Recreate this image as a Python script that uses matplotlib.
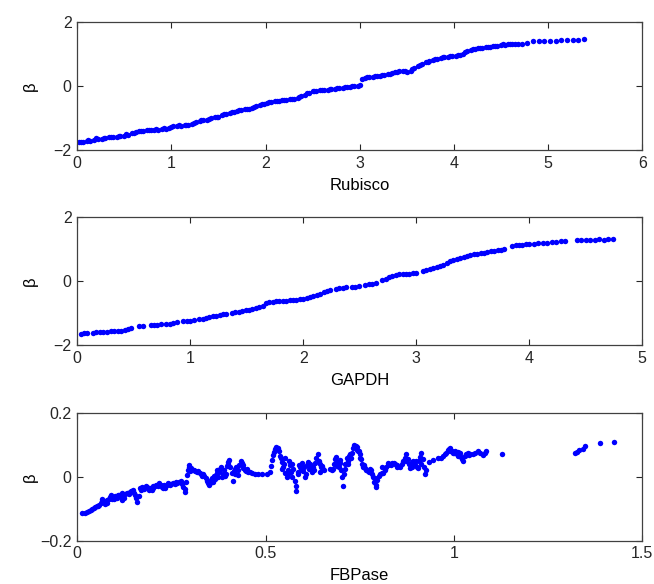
import matplotlib
matplotlib.use('Agg')
import matplotlib.pyplot as plt

# Rubisco panel
rub_x = [0.02, 0.06, 0.10, 0.14, 0.18, 0.22, 0.26, 0.30, 0.34, 0.38, 0.42, 0.46, 0.50, 0.54, 0.58,
         0.62, 0.66, 0.70, 0.74, 0.78, 0.82, 0.86, 0.90, 0.94, 0.98, 1.02, 1.06, 1.10, 1.14, 1.18,
         1.22, 1.26, 1.30, 1.34, 1.38, 1.42, 1.46, 1.50, 1.54, 1.58, 1.62, 1.66, 1.70, 1.74, 1.78,
         1.82, 1.86, 1.90, 1.94, 1.98, 2.02, 2.06, 2.10, 2.14, 2.18, 2.22, 2.26, 2.30, 2.34, 2.38,
         2.42, 2.46, 2.50, 2.54, 2.58, 2.62, 2.66, 2.70, 2.74, 2.78, 2.82, 2.86, 2.90, 2.94, 2.98,
         3.02, 3.06, 3.10, 3.14, 3.18, 3.22, 3.26, 3.30, 3.34, 3.38, 3.42, 3.46, 3.50, 3.54, 3.58,
         3.62, 3.66, 3.70, 3.74, 3.78, 3.82, 3.86, 3.90, 3.94, 3.98, 4.02, 4.06, 4.10, 4.14, 4.18,
         4.22, 4.26, 4.30, 4.34, 4.38, 4.42, 4.46, 4.50, 4.54, 4.58, 4.62, 4.68, 4.72, 4.78, 4.84,
         4.90, 4.96, 5.02, 5.08, 5.14, 5.20, 5.26, 5.32, 5.38,
         0.04, 0.12, 0.20, 0.28, 0.36, 0.44, 0.52, 0.60, 0.68, 0.76, 0.84, 0.92, 1.00, 1.08, 1.16,
         1.24, 1.32, 1.40, 1.48, 1.56, 1.64, 1.72, 1.80, 1.88, 1.96, 2.04, 2.12, 2.20, 2.28, 2.36,
         2.44, 2.52, 2.60, 2.68, 2.76, 2.84, 2.92, 3.00, 3.08, 3.16, 3.24, 3.32, 3.40, 3.48, 3.56,
         3.64, 3.72, 3.80, 3.88, 3.96, 4.04, 4.12, 4.20, 4.28, 4.36, 4.44, 4.52, 4.60, 4.65]
rub_y = [-1.76, -1.75, -1.73, -1.71, -1.67, -1.64, -1.64, -1.62, -1.60, -1.59, -1.58, -1.57, -1.56, -1.53, -1.46,
         -1.43, -1.41, -1.40, -1.38, -1.38, -1.37, -1.36, -1.35, -1.33, -1.31, -1.26, -1.25, -1.24, -1.23, -1.21,
         -1.17, -1.13, -1.10, -1.07, -1.05, -1.01, -0.98, -0.95, -0.91, -0.87, -0.84, -0.82, -0.79, -0.76, -0.73,
         -0.70, -0.67, -0.63, -0.59, -0.56, -0.54, -0.51, -0.48, -0.46, -0.44, -0.43, -0.41, -0.40, -0.37, -0.31,
         -0.27, -0.22, -0.16, -0.14, -0.13, -0.12, -0.11, -0.10, -0.08, -0.07, -0.06, -0.04, -0.03, -0.01, 0.01,
         0.21, 0.25, 0.28, 0.29, 0.31, 0.33, 0.35, 0.38, 0.40, 0.44, 0.47, 0.46, 0.45, 0.48, 0.56,
         0.63, 0.69, 0.74, 0.78, 0.82, 0.85, 0.89, 0.91, 0.92, 0.94, 0.95, 0.97, 1.02, 1.09, 1.14,
         1.16, 1.18, 1.19, 1.21, 1.22, 1.24, 1.26, 1.28, 1.30, 1.31, 1.32, 1.31, 1.33, 1.36, 1.40,
         1.40, 1.41, 1.42, 1.42, 1.43, 1.44, 1.44, 1.45, 1.47,
         -1.74, -1.70, -1.62, -1.61, -1.58, -1.56, -1.51, -1.45, -1.39, -1.37, -1.35, -1.32, -1.28, -1.22, -1.20,
         -1.14, -1.07, -1.02, -0.95, -0.88, -0.81, -0.76, -0.70, -0.64, -0.56, -0.51, -0.46, -0.42, -0.39, -0.33,
         -0.23, -0.14, -0.11, -0.09, -0.06, -0.03, 0.00, 0.04, 0.28, 0.31, 0.35, 0.38, 0.45, 0.47, 0.53,
         0.66, 0.77, 0.85, 0.92, 0.95, 0.98, 1.07, 1.17, 1.20, 1.23, 1.27, 1.31, 1.33, 1.32]

# GAPDH panel
gap_x = [0.03, 0.06, 0.09, 0.14, 0.17, 0.20, 0.23, 0.26, 0.30, 0.33, 0.36, 0.39, 0.42, 0.45, 0.48,
         0.55, 0.58, 0.65, 0.68, 0.71, 0.74, 0.79, 0.82, 0.85, 0.88, 0.94, 0.97, 1.00, 1.03, 1.08,
         1.11, 1.14, 1.17, 1.20, 1.23, 1.26, 1.29, 1.32, 1.37, 1.40, 1.43, 1.46, 1.49, 1.52, 1.55,
         1.58, 1.61, 1.64, 1.67, 1.70, 1.73, 1.76, 1.79, 1.82, 1.85, 1.88, 1.91, 1.94, 1.97, 2.00,
         2.03, 2.06, 2.09, 2.12, 2.15, 2.18, 2.21, 2.24, 2.29, 2.32, 2.35, 2.38, 2.43, 2.46, 2.49,
         2.55, 2.58, 2.61, 2.64, 2.70, 2.73, 2.76, 2.79, 2.82, 2.85, 2.88, 2.91, 2.94, 2.97, 3.00,
         3.06, 3.09, 3.12, 3.15, 3.18, 3.21, 3.24, 3.27, 3.30, 3.33, 3.36, 3.39, 3.42, 3.45, 3.48,
         3.51, 3.54, 3.57, 3.60, 3.63, 3.66, 3.69, 3.72, 3.75, 3.78, 3.85, 3.88, 3.91, 3.94, 3.97,
         4.00, 4.04, 4.08, 4.12, 4.16, 4.20, 4.24, 4.28, 4.32, 4.42, 4.46, 4.50, 4.54, 4.58, 4.62,
         4.66, 4.70, 4.74]
gap_y = [-1.64, -1.63, -1.63, -1.61, -1.60, -1.59, -1.59, -1.58, -1.57, -1.56, -1.56, -1.55, -1.53, -1.51, -1.47,
         -1.41, -1.40, -1.37, -1.36, -1.36, -1.35, -1.34, -1.33, -1.31, -1.29, -1.26, -1.24, -1.23, -1.22, -1.19,
         -1.17, -1.15, -1.13, -1.10, -1.08, -1.06, -1.04, -1.02, -0.99, -0.97, -0.95, -0.93, -0.91, -0.89, -0.87,
         -0.84, -0.82, -0.77, -0.69, -0.65, -0.64, -0.63, -0.63, -0.62, -0.61, -0.60, -0.59, -0.58, -0.57, -0.56,
         -0.53, -0.50, -0.47, -0.43, -0.39, -0.34, -0.30, -0.27, -0.23, -0.21, -0.20, -0.19, -0.18, -0.17, -0.15,
         -0.12, -0.10, -0.09, -0.07, 0.03, 0.08, 0.12, 0.16, 0.20, 0.21, 0.22, 0.23, 0.24, 0.25, 0.26,
         0.31, 0.35, 0.38, 0.41, 0.45, 0.48, 0.51, 0.58, 0.64, 0.67, 0.70, 0.74, 0.77, 0.79, 0.81,
         0.84, 0.86, 0.87, 0.89, 0.91, 0.93, 0.95, 0.97, 0.99, 1.02, 1.10, 1.13, 1.14, 1.14, 1.15,
         1.15, 1.17, 1.18, 1.20, 1.21, 1.22, 1.23, 1.25, 1.25, 1.28, 1.29, 1.29, 1.30, 1.30, 1.31,
         1.30, 1.31, 1.31]

# FBPase panel
fb_x = [0.014, 0.020, 0.026, 0.032, 0.036, 0.040, 0.044, 0.048, 0.052, 0.056, 0.059, 0.062, 0.065, 0.067, 0.070,
        0.073, 0.076, 0.080, 0.084, 0.088, 0.090, 0.093, 0.097, 0.101, 0.105, 0.109, 0.112, 0.116, 0.120, 0.124,
        0.128, 0.132, 0.136, 0.140, 0.144, 0.147, 0.150, 0.154, 0.157, 0.160, 0.163, 0.166, 0.170, 0.174, 0.178,
        0.182, 0.186, 0.190, 0.194, 0.198, 0.202, 0.206, 0.210, 0.214, 0.218, 0.222, 0.226, 0.230, 0.234, 0.238,
        0.242, 0.246, 0.250, 0.255, 0.260, 0.265, 0.270, 0.275, 0.279, 0.282, 0.285, 0.287, 0.289, 0.291, 0.293,
        0.296, 0.298, 0.302, 0.306, 0.310, 0.314, 0.318, 0.322, 0.326, 0.330, 0.334, 0.338, 0.341, 0.344, 0.347,
        0.350, 0.353, 0.356, 0.359, 0.362, 0.365, 0.368, 0.371, 0.374, 0.377, 0.380, 0.383, 0.386, 0.389, 0.392,
        0.395, 0.398, 0.401, 0.404, 0.407, 0.410, 0.413, 0.416, 0.419, 0.422, 0.426, 0.430, 0.434, 0.437, 0.441,
        0.445, 0.449, 0.454, 0.459, 0.465, 0.472, 0.480, 0.490, 0.505, 0.511, 0.514, 0.517, 0.520, 0.523, 0.526,
        0.529, 0.532, 0.535, 0.538, 0.541, 0.544, 0.547, 0.550, 0.553, 0.556, 0.559, 0.562, 0.565, 0.568, 0.571,
        0.574, 0.577, 0.580, 0.582, 0.585, 0.588, 0.591, 0.594, 0.597, 0.600, 0.603, 0.607, 0.610, 0.613, 0.616,
        0.620, 0.624, 0.627, 0.631, 0.635, 0.639, 0.642, 0.645, 0.648, 0.652, 0.656, 0.672, 0.676, 0.679, 0.682,
        0.685, 0.688, 0.691, 0.694, 0.697, 0.700, 0.703, 0.706, 0.709, 0.712, 0.715, 0.718, 0.721, 0.724, 0.727,
        0.730, 0.733, 0.736, 0.739, 0.742, 0.745, 0.748, 0.751, 0.754, 0.757, 0.760, 0.764, 0.768, 0.772, 0.776,
        0.780, 0.783, 0.786, 0.789, 0.792, 0.794, 0.797, 0.800, 0.804, 0.808, 0.812, 0.816, 0.820, 0.824, 0.828,
        0.832, 0.836, 0.840, 0.845, 0.850, 0.856, 0.861, 0.866, 0.870, 0.874, 0.877, 0.880, 0.883, 0.886, 0.889,
        0.892, 0.895, 0.898, 0.902, 0.905, 0.908, 0.911, 0.914, 0.917, 0.920, 0.923, 0.926, 0.935, 0.945, 0.958,
        0.967, 0.972, 0.976, 0.980, 0.984, 0.988, 0.991, 0.994, 0.997, 1.000, 1.004, 1.008, 1.012, 1.016, 1.019,
        1.022, 1.025, 1.029, 1.033, 1.038, 1.044, 1.051, 1.057, 1.064, 1.070, 1.076, 1.082, 1.085, 1.127, 1.322,
        1.326, 1.331, 1.344, 1.348, 1.388, 1.424,
        # denser parts of the clusters
        0.078, 0.099, 0.118, 0.138, 0.172, 0.200, 0.228, 0.262, 0.300, 0.332, 0.360, 0.372, 0.385, 0.400, 0.418,
        0.428, 0.440, 0.452, 0.545, 0.552, 0.560, 0.570, 0.586, 0.596, 0.605, 0.618, 0.630, 0.644, 0.650, 0.690,
        0.698, 0.710, 0.720, 0.744, 0.752, 0.762, 0.778, 0.790, 0.810, 0.826, 0.848, 0.872, 0.890, 0.900, 0.912,
        0.990, 1.010, 1.040]
fb_y = [-0.113, -0.112, -0.110, -0.106, -0.103, -0.100, -0.097, -0.094, -0.090, -0.092, -0.087, -0.082, -0.076, -0.069, -0.078,
        -0.084, -0.075, -0.072, -0.068, -0.062, -0.058, -0.070, -0.064, -0.061, -0.066, -0.058, -0.056, -0.062, -0.074, -0.065,
        -0.055, -0.052, -0.050, -0.047, -0.044, -0.042, -0.050, -0.056, -0.066, -0.079, -0.060, -0.036, -0.040, -0.034, -0.038,
        -0.028, -0.032, -0.041, -0.036, -0.040, -0.034, -0.029, -0.026, -0.030, -0.018, -0.025, -0.031, -0.027, -0.034, -0.024,
        -0.020, -0.025, -0.022, -0.019, -0.023, -0.020, -0.017, -0.014, -0.022, -0.032, -0.046, -0.038, -0.015, 0.005, 0.020,
        0.030, 0.038, 0.028, 0.022, 0.020, 0.017, 0.015, 0.018, 0.013, 0.010, 0.008, 0.003, -0.005, -0.012, -0.018,
        -0.026, -0.020, -0.010, -0.004, 0.002, -0.008, 0.006, 0.012, -0.002, 0.016, 0.024, 0.030, 0.010, 0.020, 0.002,
        0.008, 0.035, 0.045, 0.054, 0.030, 0.012, -0.012, 0.018, 0.026, 0.030, 0.020, 0.038, 0.048, 0.042, 0.028,
        0.020, 0.017, 0.015, 0.014, 0.013, 0.010, 0.009, 0.008, 0.010, 0.014, 0.034, 0.052, 0.068, 0.078, 0.088,
        0.094, 0.090, 0.080, 0.066, 0.058, 0.046, 0.030, 0.040, 0.012, -0.002, 0.022, 0.050, 0.036, 0.014, 0.040,
        0.026, -0.012, -0.030, -0.043, 0.008, 0.038, 0.030, 0.020, 0.042, 0.018, 0.030, 0.010, 0.036, 0.046, 0.024,
        0.034, 0.014, 0.030, 0.044, 0.058, 0.070, 0.050, 0.040, 0.030, 0.026, 0.022, 0.025, 0.020, 0.024, 0.040,
        0.055, 0.062, 0.045, 0.030, 0.044, 0.020, 0.000, -0.028, 0.010, 0.040, 0.058, 0.050, 0.064, 0.070, 0.060,
        0.075, 0.090, 0.100, 0.096, 0.085, 0.082, 0.080, 0.070, 0.055, 0.040, 0.030, 0.028, 0.022, 0.018, 0.014,
        0.020, 0.010, 0.000, -0.015, -0.025, -0.033, -0.010, 0.003, 0.008, 0.012, 0.013, 0.020, 0.030, 0.044, 0.040,
        0.038, 0.044, 0.042, 0.040, 0.036, 0.030, 0.039, 0.050, 0.060, 0.070, 0.055, 0.040, 0.029, 0.038, 0.046,
        0.049, 0.040, 0.036, 0.030, 0.029, 0.048, 0.062, 0.075, 0.055, 0.030, 0.010, 0.022, 0.047, 0.054, 0.058,
        0.059, 0.066, 0.072, 0.075, 0.084, 0.088, 0.090, 0.082, 0.076, 0.074, 0.080, 0.072, 0.078, 0.075, 0.062,
        0.055, 0.049, 0.066, 0.072, 0.075, 0.072, 0.070, 0.074, 0.080, 0.074, 0.068, 0.075, 0.080, 0.070, 0.075,
        0.078, 0.085, 0.088, 0.095, 0.105, 0.108,
        -0.082, -0.070, -0.052, -0.055, -0.032, -0.030, -0.036, -0.016, 0.018, 0.004, -0.016, 0.022, 0.000, 0.040, 0.010,
        0.006, 0.036, 0.024, 0.024, 0.060, 0.010, 0.000, 0.016, 0.022, 0.000, 0.040, 0.020, 0.016, 0.034, 0.034,
        0.052, 0.026, 0.040, 0.092, 0.060, 0.036, 0.024, -0.005, 0.030, 0.036, 0.030, 0.048, 0.032, 0.050, 0.040,
        0.080, 0.066, 0.068]

plt.rcParams['font.family'] = ['Liberation Sans', 'DejaVu Sans']

fig = plt.figure(figsize=(6.54, 5.84), dpi=100)
left, width, height = 0.118, 0.864, 0.219
ax1 = fig.add_axes([left, 0.743, width, height])
ax2 = fig.add_axes([left, 0.409, width, height])
ax3 = fig.add_axes([left, 0.074, width, height])

panels = [
    (ax1, rub_x, rub_y, 'Rubisco', (0, 6), [0, 1, 2, 3, 4, 5, 6], ['0', '1', '2', '3', '4', '5', '6'],
     (-2, 2), [-2, 0, 2], ['\u22122', '0', '2']),
    (ax2, gap_x, gap_y, 'GAPDH', (0, 5), [0, 1, 2, 3, 4, 5], ['0', '1', '2', '3', '4', '5'],
     (-2, 2), [-2, 0, 2], ['\u22122', '0', '2']),
    (ax3, fb_x, fb_y, 'FBPase', (0, 1.5), [0, 0.5, 1, 1.5], ['0', '0.5', '1', '1.5'],
     (-0.2, 0.2), [-0.2, 0, 0.2], ['\u22120.2', '0', '0.2']),
]

for ax, xs, ys, name, xl, xt, xtl, yl, yt, ytl in panels:
    ax.plot(xs, ys, 'o', color='#0000ff', markersize=3.9, markeredgewidth=0)
    ax.set_xlim(*xl)
    ax.set_ylim(*yl)
    ax.set_xticks(xt)
    ax.set_xticklabels(xtl)
    ax.set_yticks(yt)
    ax.set_yticklabels(ytl)
    ax.tick_params(direction='in', top=True, right=True, length=4, width=0.8,
                   labelsize=11.5, colors='#262626', pad=4)
    for s in ax.spines.values():
        s.set_color('#404040')
        s.set_linewidth(0.9)
    ax.set_xlabel(name, fontsize=12, labelpad=5)
    ax.set_ylabel('\u03b2', fontsize=12)
    ax.yaxis.set_label_coords(-0.07, 0.5)

fig.savefig('out.png', dpi=100)
